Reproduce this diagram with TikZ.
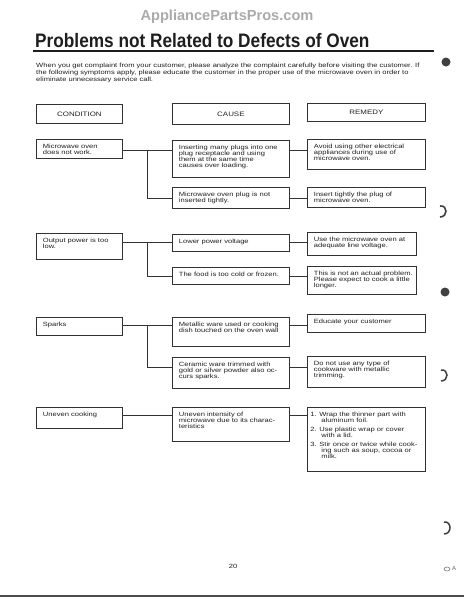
\documentclass[tikz,border=0pt]{standalone}
\usepackage{fontspec}
\setmainfont{Liberation Sans}
\newfontfamily\bodyf[FakeStretch=1.24]{Liberation Sans}
\newfontfamily\titlef[FakeStretch=0.884]{Liberation Sans}
\definecolor{ink}{RGB}{30,30,30}
\definecolor{edge}{RGB}{50,50,50}
\definecolor{wm}{RGB}{170,170,170}
\tikzset{
  bx/.style={draw=edge, line width=0.8pt, inner xsep=6.5pt, inner ysep=1.8pt, text=ink,
    font=\bodyf\fontsize{6.1}{6.1}\selectfont},
  hd/.style={draw=edge, line width=0.8pt, inner sep=0pt, text=ink,
    font=\bodyf\fontsize{6.4}{7}\selectfont},
  conn/.style={draw=edge, line width=0.7pt},
  para/.style={anchor=base west, inner sep=0pt, text=ink, font=\bodyf\fontsize{6.1}{6.1}\selectfont},
  blob/.style={fill=black!75}
}
\newcommand\mybox[6]{%
  \node[bx, anchor=north west, minimum width=#4pt, minimum height=#5pt] (#1) at (#2,#3)
  {\parbox[t][\dimexpr#5pt-3.6pt\relax][t]{\dimexpr#4pt-13pt\relax}{\makebox[\dimexpr#4pt-13pt\relax][l]{\begin{tabular}[t]{@{}l@{}}\rule{0pt}{7pt}#6\end{tabular}}}};}
\newcommand\hbx[6]{%
  \node[hd, anchor=north west, minimum width=#4pt, minimum height=#5pt] (#1) at (#2,#3) {#6};}
\newcommand\itm[1]{\hspace*{-3.5pt}\makebox[9pt][l]{#1}}
\newcommand\cnt{\hspace*{7.5pt}}
\begin{document}
\begin{tikzpicture}[x=1pt,y=-1pt]
\useasboundingbox (0,0) rectangle (464,600);
% watermark and title
\node[text=wm, font=\bfseries\fontsize{14.6}{16}\selectfont, inner sep=0pt, anchor=base] (wmk) at (227,20.5) {AppliancePartsPros.com};
\node[anchor=base west, inner sep=0pt, text=ink, font=\titlef\bfseries\fontsize{19.5}{20}\selectfont] (title) at (35,47) {Problems not Related to Defects of Oven};
\coordinate (ul1) at (33,51);
\coordinate (ul2) at (434,51);
\draw[ink, line width=1.4pt] (ul1) -- (ul2);
% intro paragraph
\node[para] (p1) at (36,67) {When you get complaint from your customer, please analyze the complaint carefully before visiting the customer. If};
\node[para] (p2) at (36,74) {the following symptoms apply, please educate the customer in the proper use of the microwave oven in order to};
\node[para] (p3) at (36,81) {eliminate unnecessary service call.};
% headers
\hbx{hc}{36}{104}{86}{19}{CONDITION}
\hbx{hk}{172}{103}{117}{21}{CAUSE}
\hbx{hr}{307}{103}{118}{18}{REMEDY}
% row 1
\mybox{c1}{36}{139}{86}{19}{Microwave oven\\ does not work.}
\mybox{k1a}{172}{140}{117}{37}{Inserting many plugs into one\\ plug receptacle and using\\ them at the same time\\ causes over loading.}
\mybox{r1a}{307}{139}{118}{30}{Avoid using other electrical\\ appliances during use of\\ microwave oven.}
\mybox{k1b}{172}{187}{117}{21}{Microwave oven plug is not\\ inserted tightly.}
\mybox{r1b}{307}{187}{118}{20}{Insert tightly the plug of\\ microwave oven.}
% row 2
\mybox{c2}{36}{233}{86}{26}{Output power is too\\ low.}
\mybox{k2a}{172}{234}{117}{17}{Lower power voltage}
\mybox{r2a}{307}{232}{109}{23}{Use the microwave oven at\\ adequate line voltage.}
\mybox{k2b}{172}{267}{117}{17}{The food is too cold or frozen.}
\mybox{r2b}{307}{266}{109}{28}{This is not an actual problem.\\ Please expect to cook a little\\ longer.}
% row 3
\mybox{c3}{36}{317}{86}{18}{Sparks}
\mybox{k3a}{172}{317}{117}{29}{Metallic ware used or cooking\\ dish touched on the oven wall}
\mybox{r3a}{307}{314}{118}{18}{Educate your customer}
\mybox{k3b}{172}{357}{117}{31}{Ceramic ware trimmed with\\ gold or silver powder also oc-\\ curs sparks.}
\mybox{r3b}{307}{356}{118}{31}{Do not use any type of\\ cookware with metallic\\ trimming.}
% row 4
\mybox{c4}{36}{407}{86}{21}{Uneven cooking}
\mybox{k4}{172}{407}{117}{34}{Uneven intensity of\\ microwave due to its charac-\\ teristics}
\mybox{r4}{307}{407}{118}{64}{\itm{1.}Wrap the thinner part with\\ \cnt aluminum foil.\\[2.4pt]
\itm{2.}Use plastic wrap or cover\\ \cnt with a lid.\\[2.4pt]
\itm{3.}Stir once or twice while cook-\\ \cnt ing such as soup, cocoa or\\ \cnt milk.}
% connectors
\coordinate (j1) at (147,150);
\coordinate (j2) at (147,242);
\coordinate (j3) at (147,325);
\coordinate (j4) at (147,415);
\coordinate (y3b) at (147,367);
\draw[conn] (c1.east |- j1) -- (k1a.west |- j1);
\draw[conn] (j1) |- (k1b.west);
\draw[conn] (k1a.east |- j1) -- (r1a.west |- j1);
\draw[conn] (k1b.east) -- (r1b.west |- k1b.east);
\draw[conn] (c2.east |- j2) -- (k2a.west |- j2);
\draw[conn] (j2) |- (k2b.west);
\draw[conn] (k2a.east |- j2) -- (r2a.west |- j2);
\draw[conn] (k2b.east) -- (r2b.west |- k2b.east);
\draw[conn] (c3.east |- j3) -- (k3a.west |- j3);
\draw[conn] (j3) |- (k3b.west |- y3b);
\draw[conn] (k3a.east |- j3) -- (r3a.west |- j3);
\draw[conn] (k3b.east |- y3b) -- (r3b.west |- y3b);
\draw[conn] (c4.east |- j4) -- (k4.west |- j4);
\draw[conn] (k4.east |- j4) -- (r4.west |- j4);
% page number and bottom rule
\node[para, anchor=base] (pg) at (233,568) {20};
\coordinate (b1) at (0,596);
\coordinate (b2) at (464,596);
\draw[black!70, line width=1.3pt] (b1) -- (b2);
% margin marks
\fill[blob] (446,62) circle (4.5);
\draw[black!75, line width=1.6pt] (440,206) .. controls (448,205) and (448,217) .. (440,217);
\fill[blob] (445,292) circle (4.5);
\draw[black!75, line width=1.5pt] (441,370) .. controls (449,369) and (449,381) .. (441,381);
\draw[black!75, line width=1.5pt] (444,522) .. controls (452,521) and (452,534) .. (444,534);
\draw[black!60, line width=0.5pt] (447,569) ellipse (3 and 2);
\node[text=black!60, font=\fontsize{6}{6}\selectfont, inner sep=0pt, anchor=base] (da) at (454,570) {A};
\end{tikzpicture}
\end{document}
